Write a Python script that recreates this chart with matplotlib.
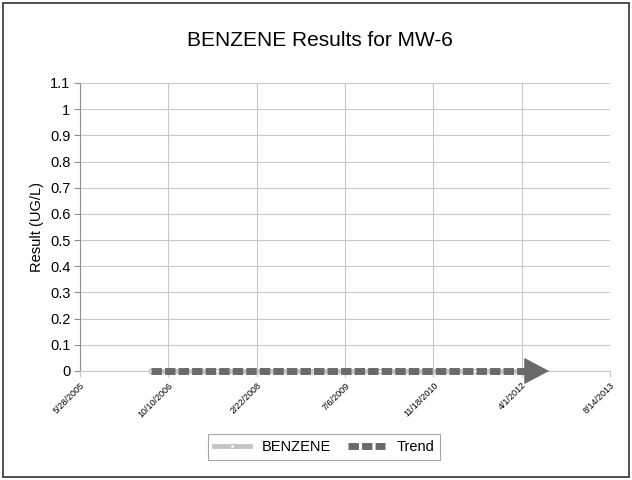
import matplotlib
matplotlib.use('Agg')
import matplotlib.pyplot as plt
import matplotlib.dates as mdates
from matplotlib.patches import Rectangle
import pandas as pd
import numpy as np

plt.rcParams['font.family'] = ['Liberation Sans', 'DejaVu Sans']

# sample dates (non-detects plotted at 0)
sample_dates = ['2006-07-05', '2007-01-15', '2007-07-10', '2008-01-20', '2008-07-15',
                '2009-01-12', '2009-07-14', '2010-01-19', '2010-07-13', '2011-01-18',
                '2011-07-12', '2012-01-17', '2012-05-15']
benzene = [0, 0, 0, 0, 0, 0, 0, 0, 0, 0, 0, 0, 0]

trend_dates = ['2006-07-05', '2012-05-28']
trend_vals = [0, 0]

tick_dates = ['2005-05-28', '2006-10-10', '2008-02-22', '2009-07-06',
              '2010-11-18', '2012-04-01', '2013-08-14']
tick_labels = ['5/28/2005', '10/10/2006', '2/22/2008', '7/6/2009',
               '11/18/2010', '4/1/2012', '8/14/2013']

sd = pd.to_datetime(sample_dates)
td = pd.to_datetime(trend_dates)
xt = pd.to_datetime(tick_dates)

fig = plt.figure(figsize=(6.32, 4.8), dpi=100)
fig.patch.set_facecolor('white')
ax = fig.add_axes([80/632, 1-371/480, 530/632, 288/480])

ax.plot(sd, benzene, color='#c4c4c4', linewidth=3.5, marker='o', markersize=3,
        markerfacecolor='white', markeredgecolor='#c4c4c4', label='BENZENE', zorder=3, clip_on=False)
ax.plot(td, trend_vals, color='#6a6a6a', linewidth=5, linestyle=(0, (1.5, 0.45)),
        label='Trend', zorder=4, clip_on=False)
# arrow head just past the end of the trend line
end = mdates.date2num(td[-1])
ax.annotate('', xy=(end + 98, 0), xytext=(end - 2, 0),
            arrowprops=dict(arrowstyle='-|>,head_length=0.85,head_width=0.45', color='#6a6a6a',
                            lw=0.5, mutation_scale=20, shrinkA=0, shrinkB=0),
            annotation_clip=False, zorder=5)

ax.set_xlim(xt[0], xt[-1])
ax.set_ylim(0, 1.1)
ax.set_xticks(xt)
ax.set_xticklabels(tick_labels, rotation=45, ha='right', rotation_mode='anchor', fontsize=6.5)
ax.set_yticks(np.arange(0, 1.11, 0.1))
ax.set_yticklabels(['0', '0.1', '0.2', '0.3', '0.4', '0.5', '0.6', '0.7', '0.8', '0.9', '1', '1.1'],
                   fontsize=10.5)
ax.grid(True, color='#c8c8c8', linewidth=0.8)
ax.set_axisbelow(True)
for s in ['top', 'right']:
    ax.spines[s].set_visible(False)
ax.spines['left'].set_color('#909090')
ax.spines['bottom'].set_color('#c8c8c8')
ax.tick_params(axis='y', length=4, color='#909090', pad=3)
ax.tick_params(axis='x', length=4, color='#c8c8c8', pad=3)
ax.set_ylabel('Result (UG/L)', fontsize=10.5, labelpad=4)

fig.text(0.506, 1-40/480, 'BENZENE Results for MW-6', ha='center', va='center', fontsize=15)

leg = fig.legend(loc='center', bbox_to_anchor=(324/632, 1-447/480), ncol=2, fontsize=10.5,
                 frameon=True, fancybox=False, edgecolor='#909090', handlelength=2.5,
                 columnspacing=1.2)
leg.get_frame().set_linewidth(0.8)

fig.patches.append(Rectangle((3/632, 3/480), 626/632, 474/480, transform=fig.transFigure,
                             fill=False, edgecolor='#333333', linewidth=1.2))

plt.savefig('out.png', dpi=100)
